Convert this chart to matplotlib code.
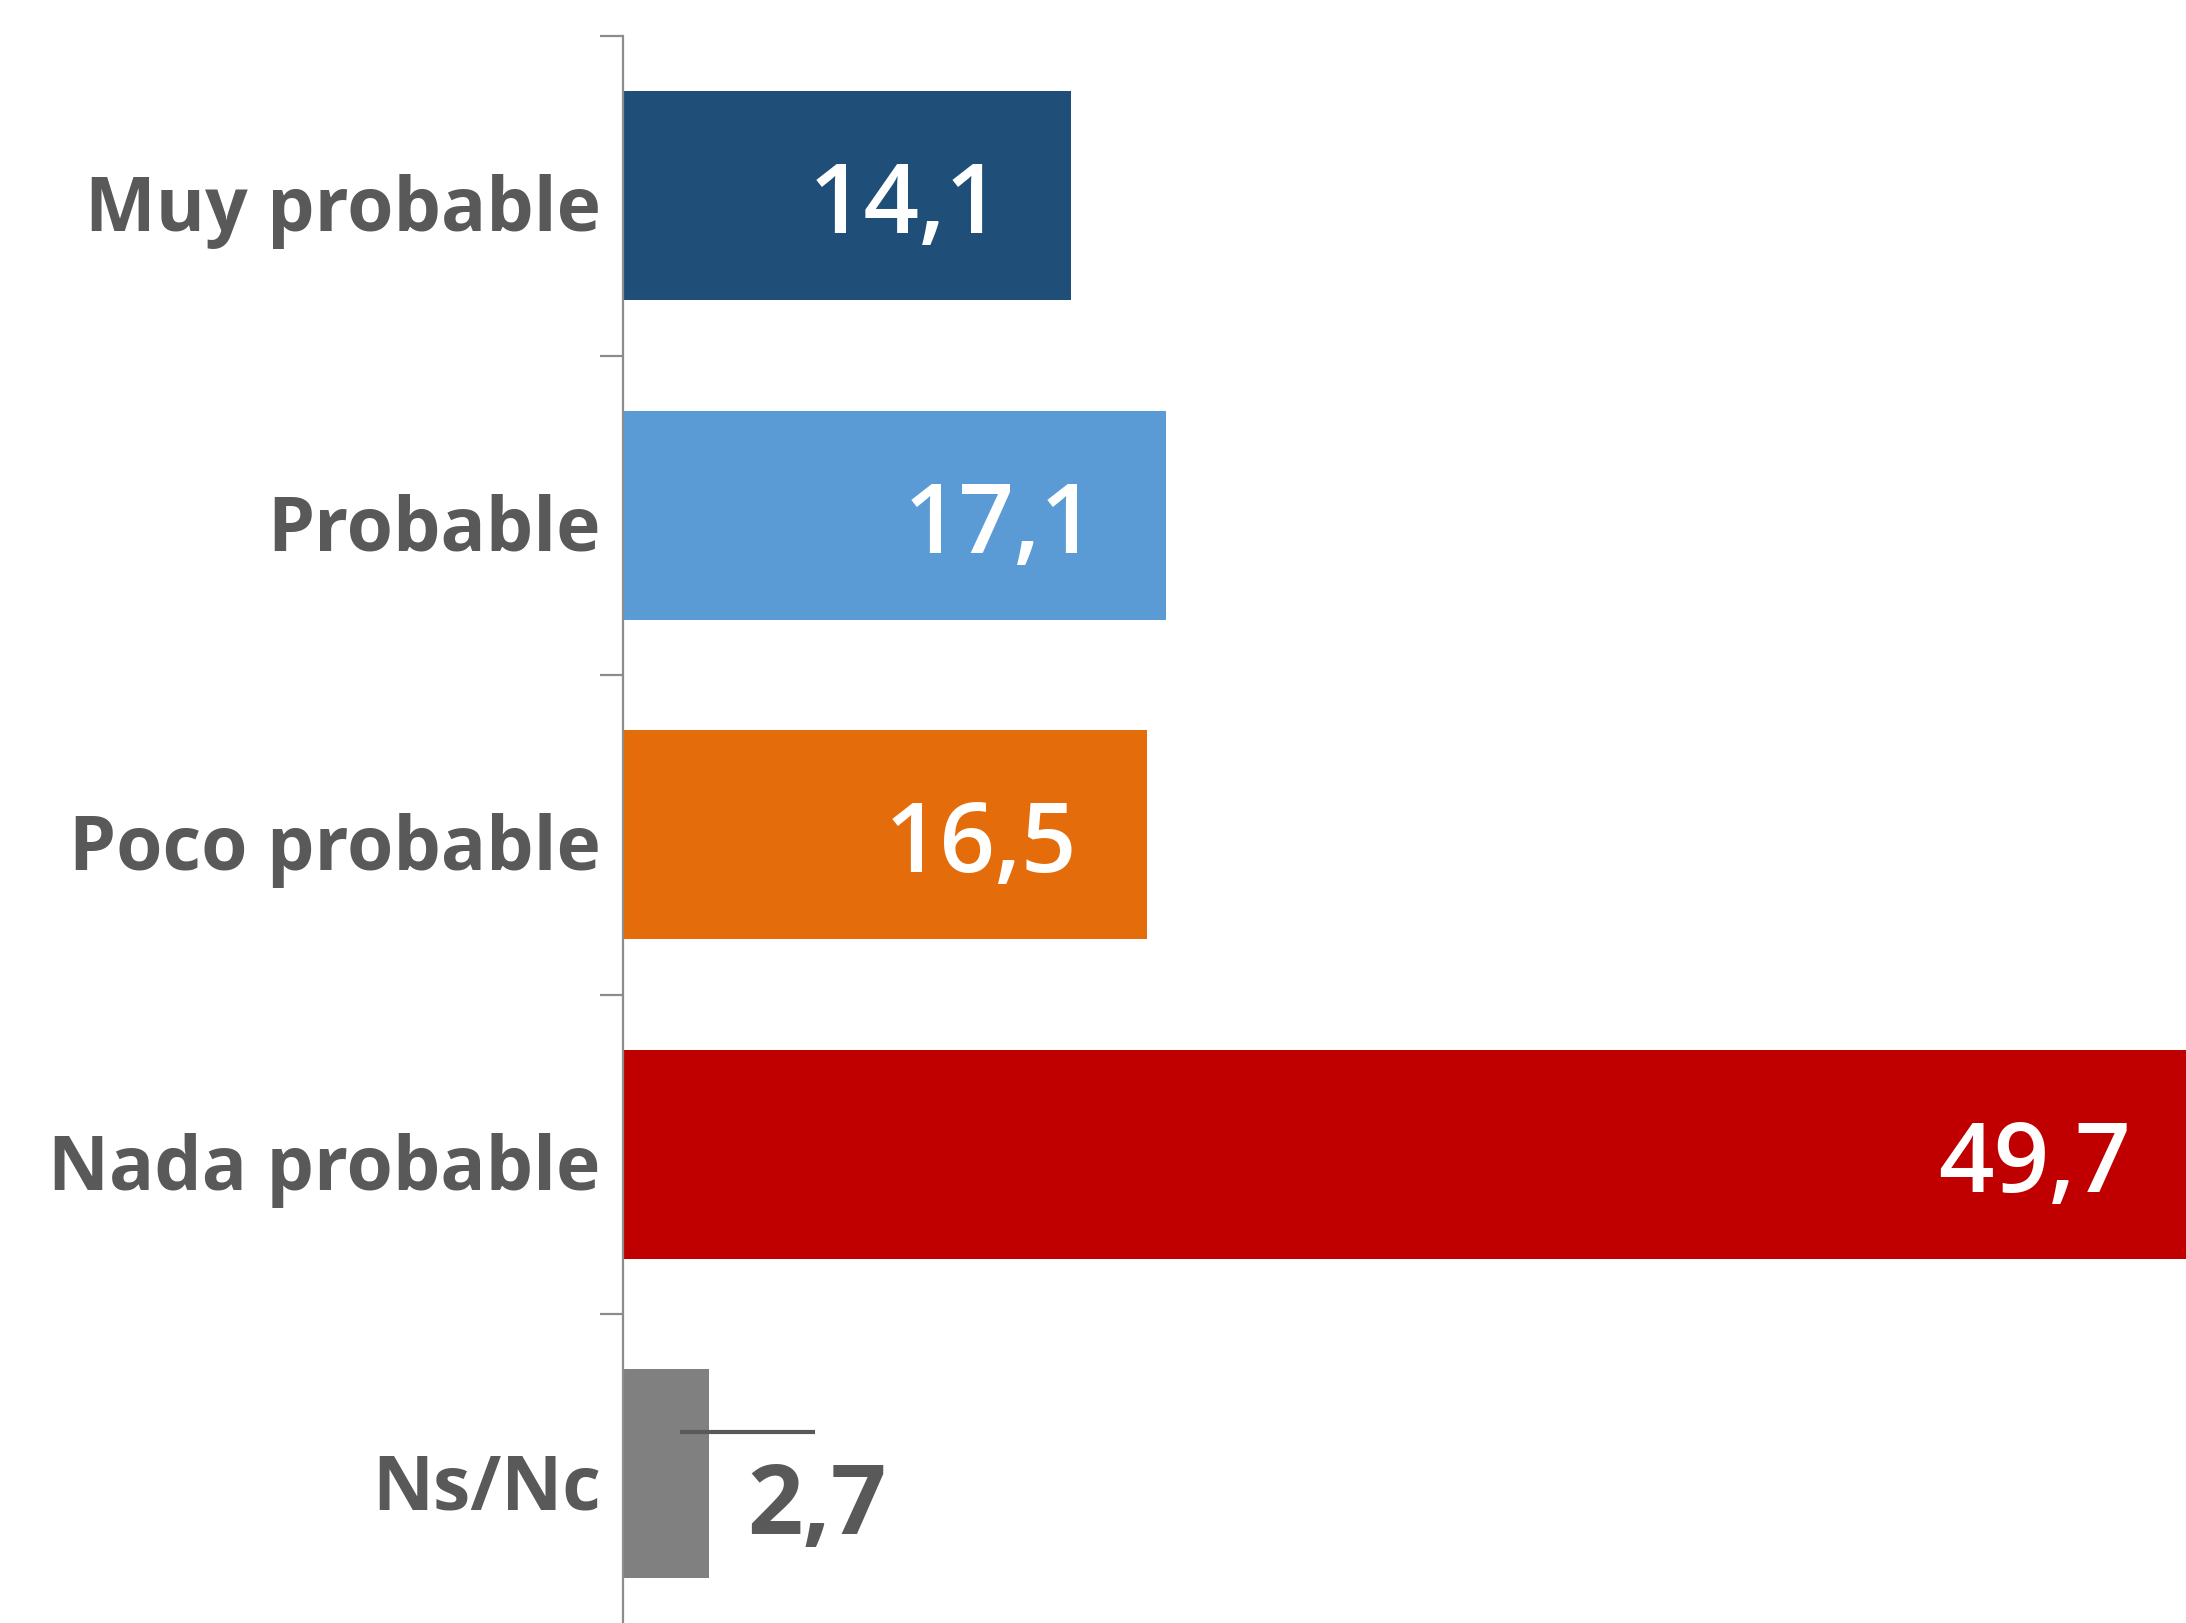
import numpy as np
import matplotlib
matplotlib.use('Agg')
import matplotlib.pyplot as plt
import matplotlib.transforms as mtransforms

categories = ['Muy probable', 'Probable', 'Poco probable', 'Nada probable', 'Ns/Nc']
values = [14.1, 17.1, 16.5, 49.7, 2.7]
labels = ['14,1', '17,1', '16,5', '49,7', '2,7']
colors = ['#1F4E79', '#5B9BD5', '#E46C0A', '#C00000', '#808080']

text_gray = '#595959'
axis_gray = '#8C8C8C'
font = ['Open Sans', 'DejaVu Sans']

fig = plt.figure(figsize=(21.86, 16.24), dpi=100)
ax = fig.add_axes([623 / 2186, 0, 1 - 623 / 2186, 1 - 37 / 1624])

y = np.arange(len(categories))
ax.barh(y, values, height=0.654, color=colors, zorder=2)

ax.set_xlim(0, (2186 - 623) / 31.75)
ax.set_ylim(-0.5 + (1624 - 37) / 319.5, -0.5)

for s in ['top', 'right', 'bottom']:
    ax.spines[s].set_visible(False)
ax.spines['left'].set_color(axis_gray)
ax.spines['left'].set_linewidth(1.6)

ax.set_xticks([])
ax.set_yticks(y)
ax.set_yticklabels(categories, fontsize=54, fontweight='bold', color=text_gray, family=font)
ax.tick_params(axis='y', which='major', length=0, pad=16)
ax.set_yticks(np.arange(-0.5, len(categories) - 1, 1), minor=True)
ax.tick_params(axis='y', which='minor', length=16.5, width=1.6, color=axis_gray)

# nudge category labels a little down, like the original
shift = mtransforms.ScaledTranslation(0, -6 / 100, fig.dpi_scale_trans)
for t in ax.get_yticklabels():
    t.set_transform(t.get_transform() + shift)

# value labels inside the bars
for i, (v, lab) in enumerate(zip(values, labels)):
    if v > 5:
        ax.text(v - 2.2, i, lab, ha='right', va='center_baseline', fontsize=70,
                fontweight='semibold', color='white', family=font, zorder=3)
    else:
        # small bar: label outside with a leader line
        ax.plot([v - 0.9, v + 3.35], [i - 0.13, i - 0.13], color=text_gray, lw=3, zorder=3,
                solid_capstyle='butt')
        ax.text(v + 3.4, i + 0.07, lab, ha='center', va='center_baseline', fontsize=70,
                fontweight='bold', color=text_gray, family=font, zorder=3)

fig.savefig('out.png', dpi=100)
